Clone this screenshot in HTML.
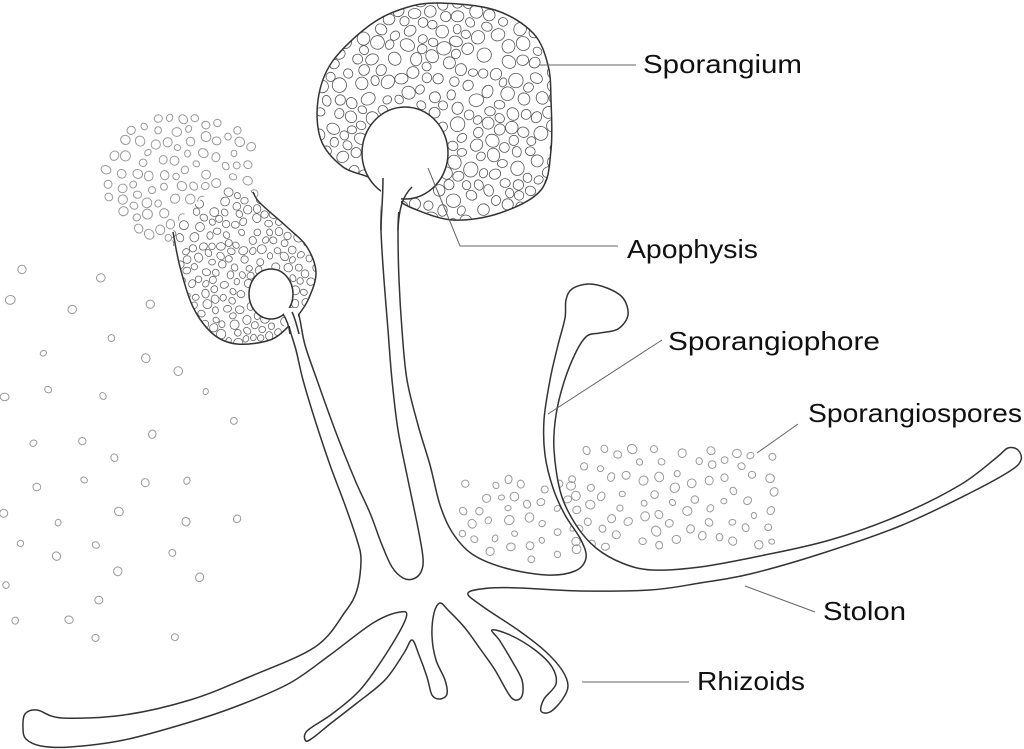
<!DOCTYPE html>
<html><head><meta charset="utf-8">
<style>
html,body{margin:0;padding:0;background:#fff;}
svg{display:block;}
text{font-family:"Liberation Sans",sans-serif;font-size:26px;fill:#111;}
</style></head>
<body>
<svg id="s" width="1024" height="749" viewBox="0 0 1024 749" xmlns="http://www.w3.org/2000/svg">
<defs>
<clipPath id="bigclip"><path id="bigclipPath" d=""/></clipPath>
<clipPath id="smallclip"><path id="smallclipPath" d=""/></clipPath>
</defs>
<g id="bgspores" fill="none" stroke="#9a9a9a" stroke-width="1"></g>
<path id="body" fill="#fff" stroke="#333" stroke-width="1.5" stroke-linejoin="round" d=""/>
<g id="big"></g>
<g id="small"></g>
<g stroke="#666" stroke-width="1" fill="none">
<line x1="540" y1="65" x2="636" y2="65"/>
<polyline points="428,168 460,246 618,246"/>
<line x1="548" y1="414" x2="662" y2="340"/>
<line x1="757" y1="453" x2="798" y2="424"/>
<line x1="745" y1="586" x2="815" y2="612"/>
<line x1="582" y1="682" x2="689" y2="682"/>
</g>
<text x="643" y="73" textLength="159" lengthAdjust="spacingAndGlyphs">Sporangium</text>
<text x="627" y="258" textLength="131" lengthAdjust="spacingAndGlyphs">Apophysis</text>
<text x="668" y="350" textLength="212" lengthAdjust="spacingAndGlyphs">Sporangiophore</text>
<text x="808" y="422" textLength="214" lengthAdjust="spacingAndGlyphs">Sporangiospores</text>
<text x="823" y="620" textLength="83" lengthAdjust="spacingAndGlyphs">Stolon</text>
<text x="697" y="690" textLength="108" lengthAdjust="spacingAndGlyphs">Rhizoids</text>
</svg>
<script>
(function(){
var NS="http://www.w3.org/2000/svg";
var seed=12345;function rnd(){seed=(seed*1103515245+12345)%2147483648;return seed/2147483648;}
function smooth(p,closed){
  var n=p.length,d="M"+p[0][0]+","+p[0][1];
  for(var i=0;i<(closed?n:n-1);i++){
    var p0=p[(i-1+n)%n],p1=p[i],p2=p[(i+1)%n],p3=p[(i+2)%n];
    if(!closed){if(i==0)p0=p1;if(i+2>=n)p3=p2;}
    var t=6;
    d+=" C"+(p1[0]+(p2[0]-p0[0])/t).toFixed(1)+","+(p1[1]+(p2[1]-p0[1])/t).toFixed(1)+" "+(p2[0]-(p3[0]-p1[0])/t).toFixed(1)+","+(p2[1]-(p3[1]-p1[1])/t).toFixed(1)+" "+p2[0]+","+p2[1];
  }
  if(closed)d+="Z";return d;
}
function el(tag,attrs,parent){var e=document.createElementNS(NS,tag);for(var k in attrs)e.setAttribute(k,attrs[k]);parent.appendChild(e);return e;}

var body=[[23,728],[25,714],[37,710],[62,718],[124,715],[190,700],[249,677],[315,647],[345,612],[357,590],[361,560],[357,540],[345,505],[330,465],[315,420],[303,380],[296,350],[290,330],[288,318],[289,305],[296,305],[300,320],[305,345],[317,380],[335,430],[355,480],[370,513],[382,545],[392,567],[403,578],[413,579],[421,572],[423,558],[418,528],[408,480],[398,430],[392,380],[388,330],[384,280],[381,230],[382,200],[385,165],[397,165],[399,200],[398,230],[399,280],[402,330],[407,380],[418,425],[430,465],[440,505],[452,532],[472,554],[505,568],[547,575],[575,571],[586,558],[581,540],[565,515],[553,488],[545,455],[544,420],[550,380],[558,345],[565,318],[566,300],[572,289],[588,284],[607,288],[623,298],[628,315],[618,329],[600,333],[587,336],[576,352],[564,382],[556,415],[554,450],[561,494],[576,525],[596,548],[622,563],[652,570],[700,567],[760,556],[830,540],[900,515],[960,485],[996,458],[1008,448],[1018,450],[1021,460],[1010,471],[970,493],[900,526],[820,554],[750,574],[700,583],[650,590],[580,591],[520,588],[490,588],[468,593],[482,606],[518,630],[545,651],[562,670],[568,686],[562,700],[550,712],[541,711],[544,699],[556,684],[552,667],[535,650],[510,635],[492,630],[500,641],[512,661],[522,680],[522,696],[515,700],[508,693],[495,670],[481,650],[465,628],[448,610],[440,603],[434,613],[432,636],[436,660],[445,680],[447,694],[440,699],[432,695],[427,677],[419,655],[412,640],[404,653],[385,680],[357,703],[330,724],[314,737],[306,741],[307,731],[332,714],[360,690],[386,654],[406,618],[400,612],[373,623],[330,655],[290,683],[240,705],[187,723],[124,740],[70,747],[41,746],[26,739]];
document.getElementById("body").setAttribute("d",smooth(body,true));

var bg=document.getElementById("bgspores");
function scatter(x0,y0,x1,y1,n,r0,r1,minD,acc){
  var pts=[];var tries=0;
  while(pts.length<n&&tries<n*60){tries++;
    var x=x0+rnd()*(x1-x0),y=y0+rnd()*(y1-y0),r=r0+rnd()*(r1-r0);
    if(acc&&!acc(x,y))continue;
    var ok=true;for(var i=0;i<pts.length;i++){var dx=pts[i][0]-x,dy=pts[i][1]-y;if(dx*dx+dy*dy<minD*minD){ok=false;break;}}
    if(ok){pts.push([x,y]);el("ellipse",{cx:x.toFixed(1),cy:y.toFixed(1),rx:r.toFixed(1),ry:(r*(0.8+rnd()*0.35)).toFixed(1),transform:"rotate("+(rnd()*180).toFixed(0)+" "+x.toFixed(1)+" "+y.toFixed(1)+")"},bg);}
  }
}
scatter(105,115,255,240,110,3.2,5,11,function(x,y){var dx=(x-185)/80,dy=(y-178)/65;return dx*dx+dy*dy<1;});
scatter(0,260,250,640,40,3,4.5,32);
scatter(462,478,580,560,35,3,4.5,12);
scatter(572,448,780,548,75,3,4.5,13);

var bigPts=[[440,3],[495,10],[533,33],[548,65],[551,100],[551,150],[541,190],[500,213],[453,220],[412,208],[395,198],[384,193],[370,178],[343,167],[321,140],[318,100],[332,62],[370,25],[405,8]];
var bigD=smooth(bigPts,true);
document.getElementById("bigclipPath").setAttribute("d",bigD);
var big=document.getElementById("big");
el("path",{d:bigD,fill:"#fff",stroke:"none"},big);
var gs=el("g",{"clip-path":"url(#bigclip)",fill:"none",stroke:"#555","stroke-width":"0.8"},big);
function pack(x0,y0,x1,y1,r0,r1,gap,tries,accept,g){
  var pts=[];
  for(var t=0;t<tries;t++){
    var x=x0+rnd()*(x1-x0),y=y0+rnd()*(y1-y0),r=r0+rnd()*(r1-r0);
    if(!accept(x,y))continue;
    var ok=true;for(var i=0;i<pts.length;i++){var dx=pts[i][0]-x,dy=pts[i][1]-y,rr=pts[i][2]+r+gap;if(dx*dx+dy*dy<rr*rr){ok=false;break;}}
    if(ok){pts.push([x,y,r]);var ry=r*(0.8+rnd()*0.2);el("ellipse",{cx:x.toFixed(1),cy:y.toFixed(1),rx:r.toFixed(1),ry:ry.toFixed(1),transform:"rotate("+(rnd()*180).toFixed(0)+" "+x.toFixed(1)+" "+y.toFixed(1)+")"},g);}
  }
}
pack(315,0,555,225,4.5,7.5,0.1,30000,function(x,y){var dx=(x-405)/45,dy=(y-153)/48;return dx*dx+dy*dy>1;},gs);
el("path",{d:bigD,fill:"none",stroke:"#333","stroke-width":"1.5"},big);
el("ellipse",{cx:405,cy:153,rx:43,ry:46,fill:"#fff",stroke:"#333","stroke-width":"1.5"},big);
el("path",{d:"M381,186 L401,186 L401,212 L381,212 Z",fill:"#fff",stroke:"none"},big);
el("path",{d:"M383,178 C383,200 381,215 381,230 M412,187 C404,195 399,205 398,230",fill:"none",stroke:"#333","stroke-width":"1.5"},big);

var smPts=[[253,192],[260,203],[287,227],[307,247],[316,273],[308,300],[296,318],[289,326],[270,340],[237,344],[213,334],[193,307],[180,267],[173,232]];
var smClosed=smPts.concat([[200,200],[230,185]]);
var smD=smooth(smClosed,true);
document.getElementById("smallclipPath").setAttribute("d",smD);
var small=document.getElementById("small");
el("path",{d:smD,fill:"#fff",stroke:"none"},small);
var gs2=el("g",{"clip-path":"url(#smallclip)",fill:"none",stroke:"#666","stroke-width":"0.8"},small);
pack(170,185,320,350,3.2,4.8,0.2,15000,function(x,y){var dx=(x-271)/24,dy=(y-293)/26;if(dx*dx+dy*dy<1)return false;var f=(y-205)/100+(x-175)/250;return rnd()<f;},gs2);
el("path",{d:smooth(smPts,false),fill:"none",stroke:"#333","stroke-width":"1.5"},small);
el("ellipse",{cx:271,cy:294,rx:22,ry:25,fill:"#fff",stroke:"#333","stroke-width":"1.5"},small);
el("path",{d:"M284,308 L298,308 L298,326 L284,326 Z",fill:"#fff",stroke:"none"},small);
el("path",{d:"M283,314 C287,320 289,326 290,334 M292,312 C295,318 297,326 299,334",fill:"none",stroke:"#333","stroke-width":"1.5"},small);
})();
</script>
</body></html>
